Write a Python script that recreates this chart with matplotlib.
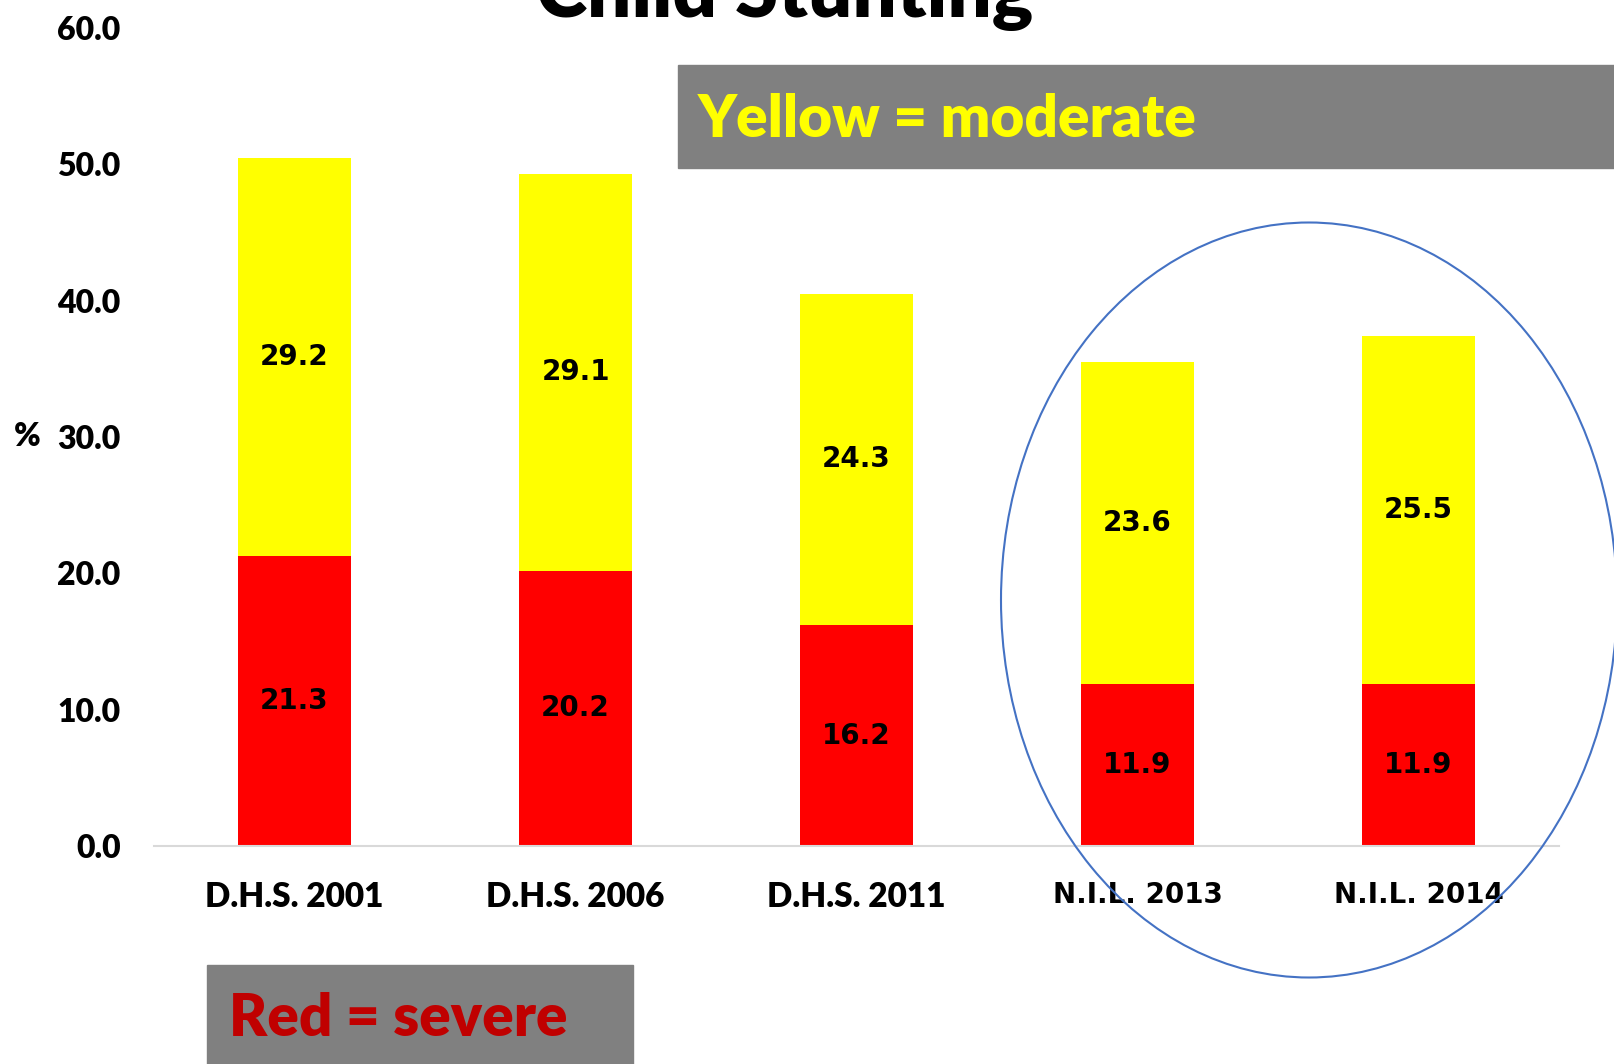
import matplotlib.pyplot as plt
import numpy as np
from matplotlib.patches import Ellipse, Rectangle

# Data
surveys = ["D.H.S. 2001", "D.H.S. 2006", "D.H.S. 2011", "N.I.L. 2013", "N.I.L. 2014"]
severe = [21.3, 20.2, 16.2, 11.9, 11.9]
moderate = [29.2, 29.1, 24.3, 23.6, 25.5]
y_ticks = [0, 10, 20, 30, 40, 50, 60]

W, H = 1614, 1064
fig = plt.figure(figsize=(W / 100, H / 100), dpi=100)
ax = fig.add_axes([154 / W, 1 - 846 / H, (1559 - 154) / W, (846 - 28) / H])

x = np.arange(len(surveys))
severe = np.array(severe)
moderate = np.array(moderate)
ax.bar(x, severe, width=0.4, color="#FF0000")
ax.bar(x, moderate, width=0.4, bottom=severe, color="#FFFF00")

for xi, s, m in zip(x, severe, moderate):
    ax.text(xi, s / 2, f"{s:.1f}", ha="center", va="center",
            fontsize=20, fontweight="bold", family="DejaVu Sans")
    ax.text(xi, s + m / 2, f"{m:.1f}", ha="center", va="center",
            fontsize=20, fontweight="bold", family="DejaVu Sans")

ax.set_xlim(-0.5, len(surveys) - 0.5)
ax.set_ylim(0, 60)
ax.set_yticks(y_ticks)
ax.set_yticklabels([f"{v:.1f}" for v in y_ticks], fontsize=23,
                   fontweight="heavy", family="Lato")
ax.set_xticks(x)
ax.set_xticklabels(surveys, fontsize=24, fontweight="heavy", family="Lato")
for lab in ax.get_xticklabels():
    if lab.get_text().startswith("N.I.L."):
        lab.set_fontfamily("DejaVu Sans")
        lab.set_fontweight("bold")
        lab.set_fontsize(20)
ax.tick_params(axis="y", length=0, pad=24)
ax.tick_params(axis="x", length=0, pad=25)

for side in ["top", "right", "left"]:
    ax.spines[side].set_visible(False)
ax.spines["bottom"].set_color("#D9D9D9")
ax.spines["bottom"].set_linewidth(1.5)

fig.text(27 / W, 1 - 437 / H, "%", ha="center", va="center",
         fontsize=23, fontweight="heavy", family="Lato")

# Title (cut at the top in the original)
fig.text(785 / W, 1 - 17 / H, "Child Stunting", ha="center", va="baseline",
         fontsize=56, fontweight="heavy", family="Lato")

# Legend-like boxes
fig.patches.append(Rectangle((678 / W, 1 - 168 / H), (W - 678) / W, 103 / H,
                             transform=fig.transFigure, color="#808080", zorder=0))
fig.text(698 / W, 1 - 137 / H, "Yellow = moderate", ha="left", va="baseline",
         fontsize=42, fontweight="heavy", family="Lato", color="#FFFF00")

fig.patches.append(Rectangle((207 / W, 0), (633 - 207) / W, (H - 965) / H,
                             transform=fig.transFigure, color="#808080", zorder=0))
fig.text(229 / W, 1 - 1036 / H, "Red = severe", ha="left", va="baseline",
         fontsize=42, fontweight="heavy", family="Lato", color="#C00000")

# Highlight ellipse around the N.I.L. surveys
fig.patches.append(Ellipse((1309 / W, 1 - 600 / H), 616 / W, 755 / H,
                           transform=fig.transFigure, fill=False,
                           edgecolor="#4472C4", linewidth=1.5, zorder=5))

fig.savefig("out.png", dpi=100)
